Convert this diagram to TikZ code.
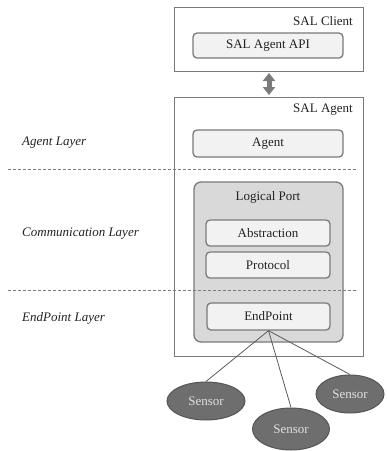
\documentclass[tikz,border=0pt]{standalone}
\usepackage{fontspec}
\setmainfont{Liberation Serif}
\usetikzlibrary{shapes.geometric,arrows.meta}
\definecolor{edge}{HTML}{7A7A7A}
\definecolor{txt}{HTML}{222222}
\definecolor{inner}{HTML}{F2F2F2}
\definecolor{port}{HTML}{D9D9D9}
\definecolor{sens}{HTML}{6E6E6E}
\tikzset{
  outerbox/.style={draw=edge, line width=1pt, fill=white, inner sep=0pt},
  innerbox/.style={draw=edge, line width=1.3pt, fill=inner, rounded corners=4pt, inner sep=0pt, text=txt, font=\fontsize{13}{15}\selectfont},
  portbox/.style={draw=edge, line width=1.3pt, fill=port, rounded corners=7pt, inner sep=0pt},
  title/.style={text=txt, font=\fontsize{13}{15}\selectfont, inner sep=0pt, anchor=east},
  layer/.style={text=txt, font=\fontsize{13}{15}\selectfont\itshape, inner sep=0pt, anchor=west},
  sensor/.style={ellipse, draw=edge!70!black, line width=1pt, fill=sens, inner sep=0pt, text=white!88!black, font=\fontsize{13}{15}\selectfont},
  divider/.style={draw=edge, line width=1pt, dash pattern=on 3pt off 2pt},
  wire/.style={draw=edge!75!black, line width=0.8pt},
  dbl/.style={draw=edge, line width=5pt, {Triangle[width=12pt,length=8pt]}-{Triangle[width=12pt,length=8pt]}}
}
\begin{document}
\begin{tikzpicture}[x=1pt,y=-1pt]
\useasboundingbox (0,0) rectangle (387,451);
% SAL Client
\node[outerbox, minimum width=189pt, minimum height=64pt] (client) at (268.5,39) {};
\node[title] (clientlbl) at (353,21) {SAL Client};
\node[innerbox, minimum width=150pt, minimum height=25pt] (api) at (268,45.5) {SAL Agent API};
% SAL Agent
\node[outerbox, minimum width=189pt, minimum height=259pt] (agentbox) at (268.5,226.5) {};
\node[title] (agentlbl) at (353,110) {SAL Agent};
% dividers
\coordinate (d1a) at (8,169);
\coordinate (d1b) at (357,169);
\coordinate (d2a) at (8,290);
\coordinate (d2b) at (357,290);
\draw[divider] (d1a) -- (d1b);
% Agent
\node[innerbox, minimum width=150pt, minimum height=27pt] (agent) at (268,143.5) {Agent};
% Logical port
\node[portbox, minimum width=149pt, minimum height=160pt] (port) at (268.5,262) {};
\node[text=txt, font=\fontsize{13}{15}\selectfont, inner sep=0pt] (portlbl) at (268,197) {Logical Port};
\node[innerbox, minimum width=124pt, minimum height=26pt] (abs) at (268,233) {Abstraction};
\node[innerbox, minimum width=124pt, minimum height=26pt] (proto) at (268,265) {Protocol};
\draw[divider] (d2a) -- (d2b);
\node[innerbox, minimum width=123pt, minimum height=27pt] (ep) at (268.5,316.5) {EndPoint};
% arrow
\path (client.south) ++(0.5,1.5) coordinate (ca);
\path (agentbox.north) ++(0.5,-1.5) coordinate (cb);
\draw[dbl] (ca) -- (cb);
% layer labels
\node[layer] (l1) at (22,143) {Agent Layer};
\node[layer] (l2) at (22,234) {Communication Layer};
\node[layer] (l3) at (22,318) {EndPoint Layer};
% sensors
\node[sensor, minimum width=78pt, minimum height=38pt] (s1) at (206,401) {Sensor};
\node[sensor, minimum width=77pt, minimum height=42pt] (s2) at (291,429) {Sensor};
\node[sensor, minimum width=68pt, minimum height=38pt] (s3) at (350,394) {Sensor};
\draw[wire] (ep.south) -- (s1.north);
\draw[wire] (ep.south) -- (s2.north);
\draw[wire] (ep.south) -- (s3.north);
\end{tikzpicture}
\end{document}
